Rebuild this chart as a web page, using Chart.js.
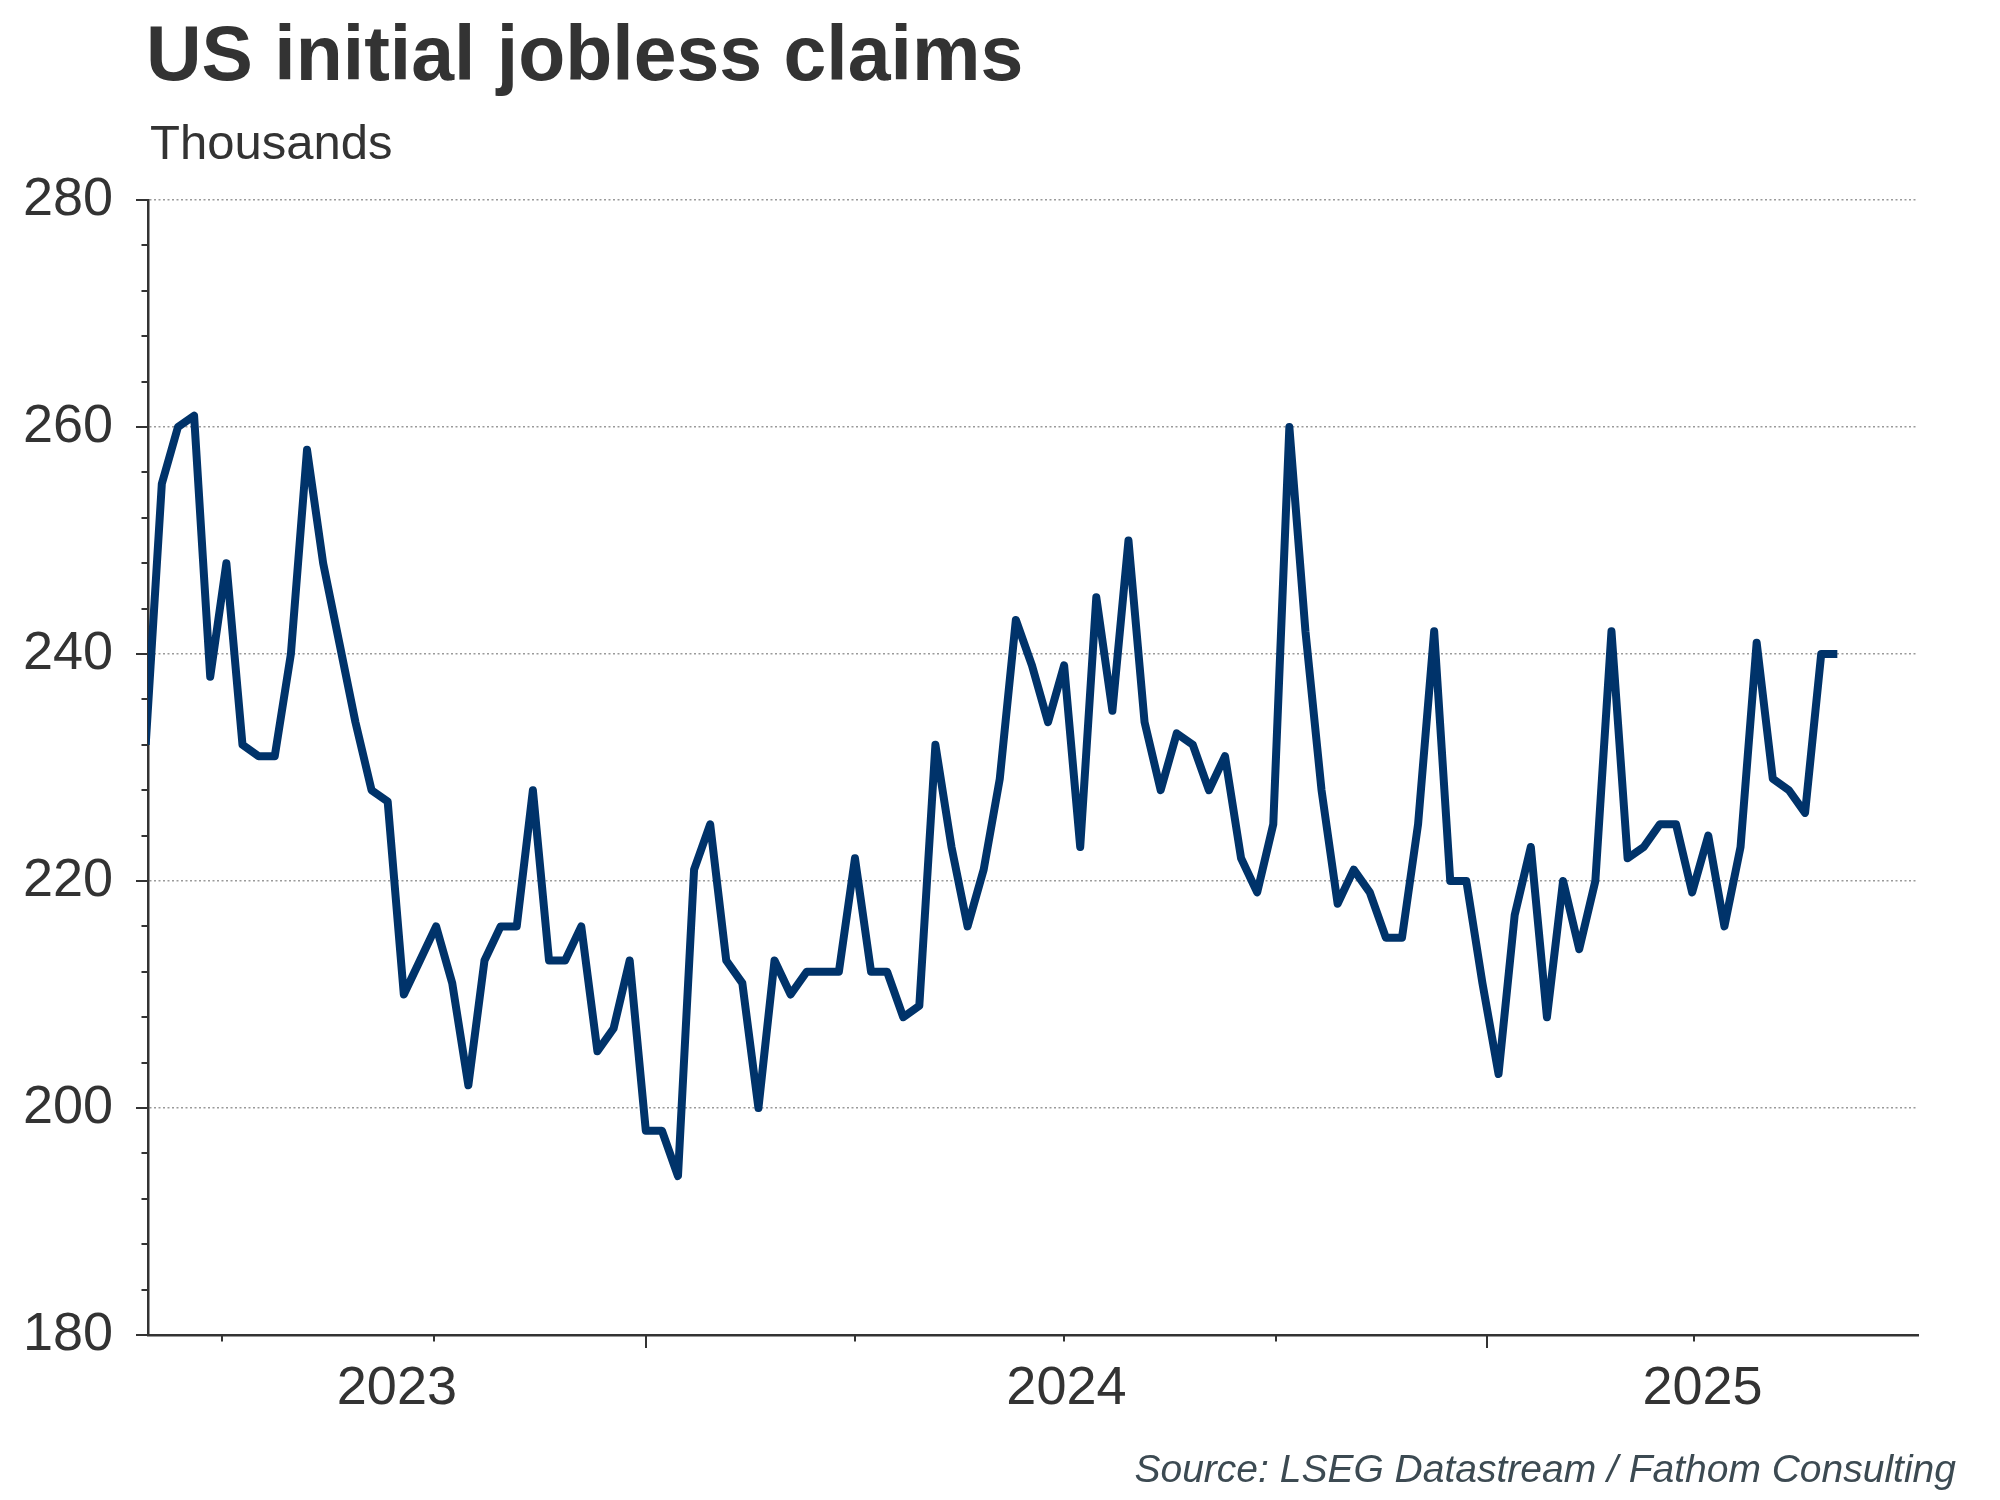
<!DOCTYPE html>
<html>
<head>
<meta charset="utf-8">
<title>US initial jobless claims</title>
<script src="https://cdn.jsdelivr.net/npm/chart.js@4"></script>
<style>
    body { margin: 0; background: #fff; }
    #wrap { position: relative; width: 2000px; height: 1500px; font-family: 'Liberation Sans', Arial, sans-serif; color: #333; }
    #chart { position: absolute; left: 0; top: 0; }
    #title { position: absolute; left: 146px; top: 15px; margin: 0; font-size: 77px; line-height: 77px; font-weight: bold; white-space: nowrap; }
    #units { position: absolute; left: 150px; top: 118px; font-size: 49px; line-height: 49px; white-space: nowrap; }
    #source { position: absolute; right: 44px; top: 1449px; font-size: 39px; line-height: 39px; font-style: italic; color: #3c4a52; white-space: nowrap; }
</style>
</head>
<body>
<div id="wrap">
    <canvas id="chart" width="2000" height="1500"></canvas>
    <h1 id="title">US initial jobless claims</h1>
    <div id="units">Thousands</div>
    <div id="source">Source: LSEG Datastream / Fathom Consulting</div>
</div>
<script>
// weekly initial claims, thousands, first week ending 2023-05-29
const firstWeek = '2023-05-29';
const claims = [
    232, 255, 260, 261, 238, 248, 232, 231, 231, 240,
    258, 248, 241, 234, 228, 227, 210, 213, 216, 211,
    202, 213, 216, 216, 228, 213, 213, 216, 205, 207,
    213, 198, 198, 194, 221, 225, 213, 211, 200, 213,
    210, 212, 212, 212, 222, 212, 212, 208, 209, 232,
    223, 216, 221, 229, 243, 239, 234, 239, 223, 245,
    235, 250, 234, 228, 233, 232, 228, 231, 222, 219,
    225, 260, 242, 228, 218, 221, 219, 215, 215, 225,
    242, 220, 220, 211, 203, 217, 223, 208, 220, 214,
    220, 242, 222, 223, 225, 225, 219, 224, 216, 223,
    241, 229, 228, 226, 240, 240
];
const axisStart = '2023-05-30';
const axisEnd = '2025-07-07';
const yearLabels = ['2023', '2024', '2025'];
const yMin = 180, yMax = 280, yMajorStep = 20, yMinorStep = 4;

// date -> fractional year, so the x axis is a plain linear scale
function decYear(d) {
    const y = d.getUTCFullYear();
    const start = Date.UTC(y, 0, 1), end = Date.UTC(y + 1, 0, 1);
    return y + (d.getTime() - start) / (end - start);
}
function parseDay(s) {
    return new Date(s + 'T00:00:00Z');
}

const xMin = decYear(parseDay(axisStart));
const xMax = decYear(parseDay(axisEnd));
const t0 = parseDay(firstWeek).getTime();
const points = claims.map((v, i) => ({ x: decYear(new Date(t0 + i * 7 * 86400000)), y: v }));
const lastX = points[points.length - 1].x;

// each year label sits in the middle of the visible part of that year
const yearCentres = yearLabels.map(label => {
    const y = Number(label);
    return (Math.max(y, xMin) + Math.min(y + 1, xMax)) / 2;
});

// quarter marks, only over the span that has data
function quarterStarts() {
    const out = [];
    for (let y = Math.floor(xMin); y <= Math.ceil(xMax); y++) {
        [0, 3, 6, 9].forEach(m => {
            const v = decYear(new Date(Date.UTC(y, m, 1)));
            if (v > xMin && v < lastX) out.push({ value: v, month: m });
        });
    }
    return out;
}

// short and long tick marks drawn on both axes
const axisMarks = {
    id: 'axisMarks',
    afterDraw(chart) {
        const { ctx, chartArea, scales: { x, y } } = chart;
        ctx.save();
        ctx.strokeStyle = '#333';
        ctx.lineWidth = 2;
        ctx.beginPath();
        y.ticks.forEach(t => {
            const py = Math.round(y.getPixelForValue(t.value));
            const len = t.value % yMajorStep === 0 ? 12 : 6.5;
            ctx.moveTo(chartArea.left - len, py);
            ctx.lineTo(chartArea.left, py);
        });
        quarterStarts().forEach(q => {
            const px = Math.round(x.getPixelForValue(q.value));
            const len = q.month === 0 ? 13 : 6.5;
            ctx.moveTo(px, chartArea.bottom);
            ctx.lineTo(px, chartArea.bottom + len);
        });
        ctx.stroke();
        ctx.restore();
    }
};

document.addEventListener('DOMContentLoaded', function() {
    Chart.defaults.font.family = "'Liberation Sans', Arial, sans-serif";
    Chart.defaults.color = '#333';

    const ctx = document.getElementById('chart').getContext('2d');
    new Chart(ctx, {
        type: 'line',
        data: {
            datasets: [{
                label: 'Initial jobless claims',
                data: points,
                borderColor: '#00336a',
                borderWidth: 8,
                borderJoinStyle: 'round',
                pointRadius: 0,
                tension: 0,
                fill: false,
                clip: 0
            }]
        },
        options: {
            responsive: false,
            devicePixelRatio: 1,
            animation: false,
            layout: { padding: { top: 200, right: 82, left: 0, bottom: 0 } },
            plugins: {
                legend: { display: false },
                tooltip: { enabled: false }
            },
            scales: {
                x: {
                    type: 'linear',
                    min: xMin,
                    max: xMax,
                    afterFit: scale => { scale.height = 165; },
                    afterBuildTicks: scale => { scale.ticks = yearCentres.map(v => ({ value: v })); },
                    grid: { display: false, drawTicks: false },
                    border: { display: true, color: '#333', width: 2.5 },
                    ticks: {
                        autoSkip: false,
                        maxRotation: 0,
                        padding: 22,
                        font: { size: 54 },
                        color: '#333',
                        callback: (v, i) => yearLabels[i]
                    }
                },
                y: {
                    min: yMin,
                    max: yMax,
                    afterFit: scale => { scale.width = 148; },
                    grid: {
                        drawTicks: false,
                        lineWidth: 1.5,
                        color: c => (c.tick && c.tick.value % yMajorStep === 0) ? '#9a9a9a' : 'rgba(0,0,0,0)'
                    },
                    border: { display: true, color: '#333', width: 2.5, dash: [2, 2.5] },
                    ticks: {
                        autoSkip: false,
                        stepSize: yMinorStep,
                        padding: 35,
                        font: { size: 54 },
                        color: '#333',
                        callback: v => v % yMajorStep === 0 ? v : ''
                    }
                }
            }
        },
        plugins: [axisMarks]
    });
});
</script>
</body>
</html>
